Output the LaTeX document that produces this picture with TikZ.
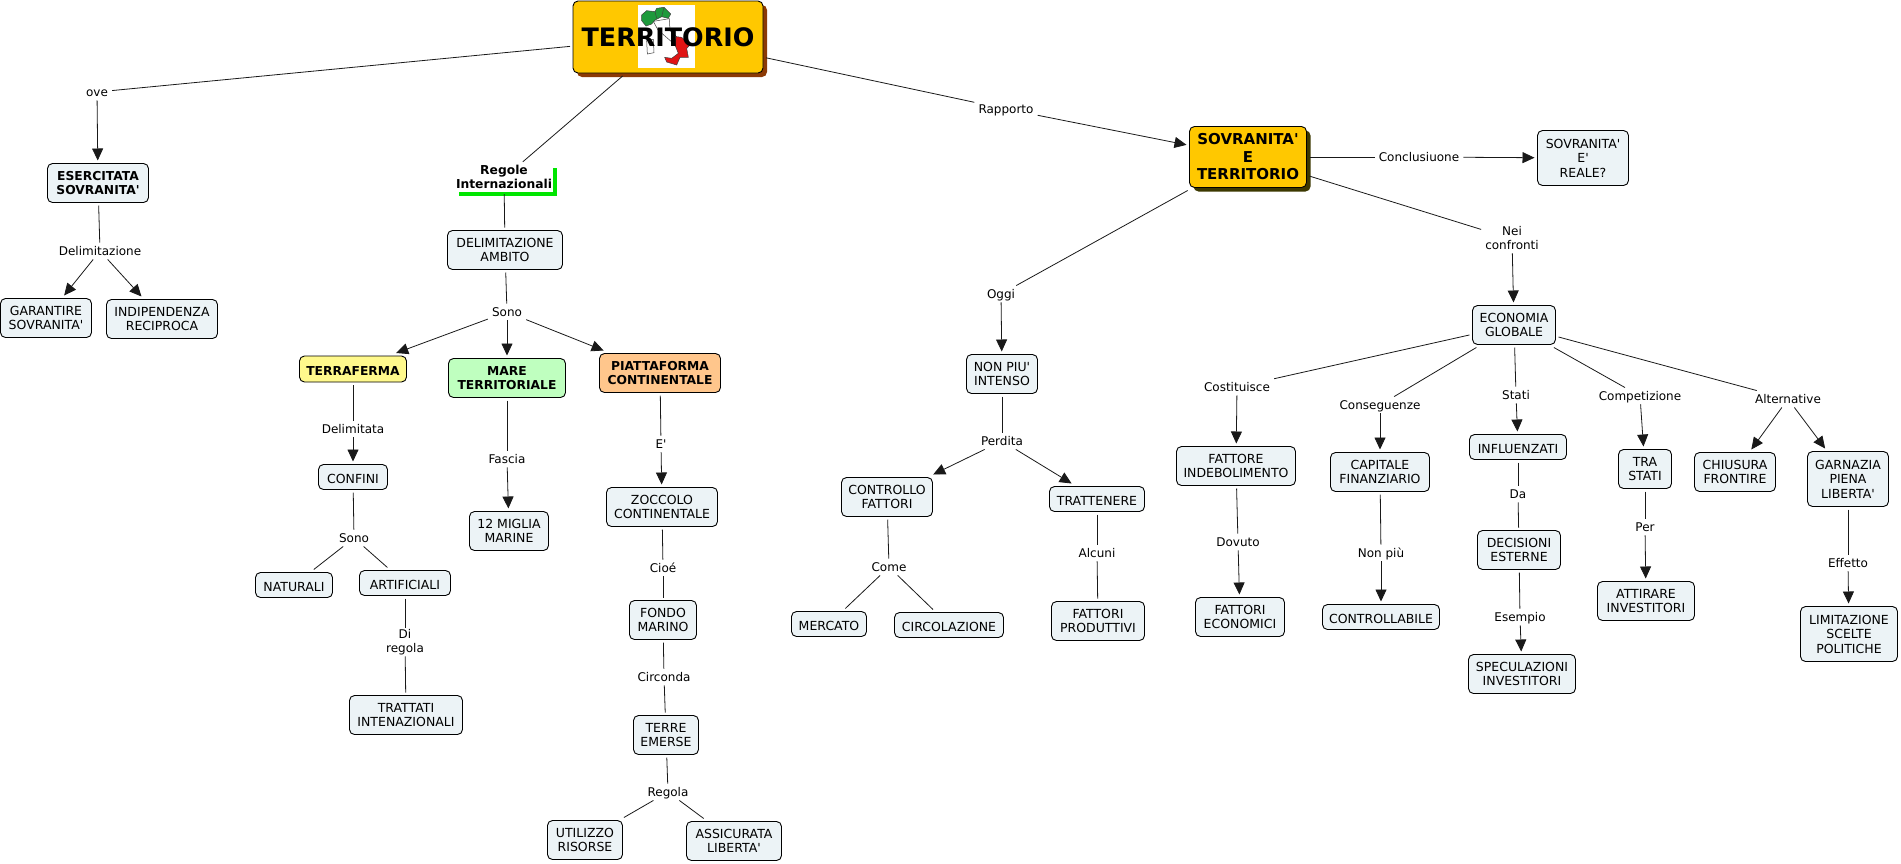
\documentclass[tikz,border=0pt]{standalone}
\usepackage{fontspec}
\setmainfont{DejaVu Sans}[Ligatures=TeXOff]
\usetikzlibrary{arrows.meta}
\usetikzlibrary{scopes}
\usetikzlibrary{shadows}
\definecolor{gold}{HTML}{FFC800}
\definecolor{pale}{HTML}{ECF3F6}
\definecolor{rust}{HTML}{8C3A05}
\definecolor{darkolive}{HTML}{3C3800}
\definecolor{mapgreen}{HTML}{1E9A3C}
\definecolor{mapred}{HTML}{E01414}
\begin{document}
\begin{tikzpicture}[
    x=1pt,y=-1pt,
    >={Triangle[length=12pt,width=11pt]},
    conn/.style={line width=0.8pt,black!90},
    concept/.style={rectangle,rounded corners=5pt,draw=black,line width=0.9pt,fill=pale,
        align=center,outer sep=3pt,inner sep=0pt,font=\fontsize{12.5}{14.5}\selectfont,
        execute at begin node={\rule{0pt}{12.8pt}}},
    dims/.style 2 args={minimum width=#1pt,minimum height=#2pt},
    strong/.style={font=\fontsize{12.3}{14.5}\selectfont\bfseries},
    main/.style={fill=gold,font=\fontsize{15}{17.5}\selectfont\bfseries},
    link/.style={rectangle,align=center,inner xsep=4pt,inner ysep=1pt,
        font=\fontsize{12}{14.5}\selectfont,execute at begin node={\rule[-2.5pt]{0pt}{14.5pt}}},
]
    \useasboundingbox (0,0) rectangle (1901,863);
    % Root with the map of Italy
    \node[concept,main,dims={190}{72},drop shadow={shadow xshift=4pt,shadow yshift=-4pt,fill=rust,opacity=1}] (territorio) at (668,37) {};
    \fill[white] (638,5) rectangle (695,68);
    {[shift={(540,0)},xscale=1/3,yscale=1/3,draw=black!75,line width=0.5pt]
        \draw[fill=white] (340,64) -- (388,56) -- (390,92) -- (412,112) -- (406,135) -- (384,116) -- (354,90) -- cycle;
        \draw[fill=white] (320,122) -- (340,118) -- (342,158) -- (322,162) -- cycle;
        \draw[fill=mapgreen] (305,45) -- (320,32) -- (345,35) -- (350,25) -- (372,22) -- (392,42) -- (385,55) -- (365,50) -- (345,60) -- (335,72) -- (318,78) -- (305,62) -- cycle;
        \draw (345,35) -- (350,55) (372,22) -- (365,50);
        \draw[fill=mapred] (408,110) -- (425,112) -- (450,135) -- (440,145) -- (445,172) -- (420,172) -- (410,195) -- (380,186) -- (374,172) -- (395,175) -- (415,160) -- (405,135) -- cycle;
    }
    \node[font=\fontsize{25.4}{28}\selectfont\bfseries] (territoriotext) at (territorio) {TERRITORIO};

    % Left branch
    \node[link] (ove) at (97,92) {ove};
    \node[concept,strong,dims={101}{39}] (esercitata) at (98,183) {ESERCITATA\\SOVRANITA'};
    \node[link] (delimitazione) at (100,251) {Delimitazione};
    \node[concept,dims={91}{39}] (garantire) at (46,318) {GARANTIRE\\SOVRANITA'};
    \node[concept,dims={111}{39}] (indipendenza) at (162,319) {INDIPENDENZA\\RECIPROCA};

    % Rules branch
    \node[link,strong,inner xsep=0pt,fill=white,outer sep=2pt,minimum width=98pt,minimum height=25pt,drop shadow={shadow xshift=4pt,shadow yshift=-4pt,fill=green!90!black,opacity=1}] (regole) at (504,178) {Regole\\Internazionali};
    \node[concept,dims={115}{39}] (ambito) at (505,250) {DELIMITAZIONE\\AMBITO};
    \node[link] (sonoa) at (507,312) {Sono};
    \node[concept,strong,fill=yellow!45,dims={107}{26}] (terraferma) at (353,369) {TERRAFERMA};
    \node[concept,strong,fill=green!25,dims={117}{39}] (mare) at (507,378) {MARE\\TERRITORIALE};
    \node[concept,strong,fill=orange!45,dims={121}{39}] (piattaforma) at (660,373) {PIATTAFORMA\\CONTINENTALE};
    \node[link] (delimitata) at (353,429) {Delimitata};
    \node[concept,dims={69}{25}] (confini) at (353,477) {CONFINI};
    \node[link] (sonob) at (354,538) {Sono};
    \node[concept,dims={77}{25}] (naturali) at (294,585) {NATURALI};
    \node[concept,dims={91}{25}] (artificiali) at (405,583) {ARTIFICIALI};
    \node[link] (diregola) at (405,642) {Di\\regola};
    \node[concept,dims={113}{39}] (trattati) at (406,715) {TRATTATI\\INTENAZIONALI};
    \node[link] (fascia) at (507,459) {Fascia};
    \node[concept,dims={79}{39}] (miglia) at (509,531) {12 MIGLIA\\MARINE};
    \node[link] (ee) at (661,444) {E'};
    \node[concept,dims={111}{39}] (zoccolo) at (662,507) {ZOCCOLO\\CONTINENTALE};
    \node[link] (cioe) at (663,568) {Cioé};
    \node[concept,dims={67}{39}] (fondo) at (663,620) {FONDO\\MARINO};
    \node[link] (circonda) at (664,677) {Circonda};
    \node[concept,dims={65}{39}] (terre) at (666,735) {TERRE\\EMERSE};
    \node[link] (regola) at (668,792) {Regola};
    \node[concept,dims={75}{39}] (utilizzo) at (585,840) {UTILIZZO\\RISORSE};
    \node[concept,dims={95}{39}] (assicurata) at (734,841) {ASSICURATA\\LIBERTA'};

    % Sovereignty branch
    \node[link] (rapporto) at (1006,109) {Rapporto};
    \node[concept,main,dims={117}{61},drop shadow={shadow xshift=4pt,shadow yshift=-4pt,fill=darkolive,opacity=1}] (sovranita) at (1248,157) {SOVRANITA'\\E\\TERRITORIO};
    \node[link] (conclusione) at (1419,157) {Conclusiuone};
    \node[concept,dims={91}{55}] (reale) at (1583,158) {SOVRANITA'\\E'\\REALE?};
    \node[link] (oggi) at (1001,294) {Oggi};
    \node[concept,dims={71}{39}] (nonpiu) at (1002,374) {NON PIU'\\INTENSO};
    \node[link] (perdita) at (1002,441) {Perdita};
    \node[concept,dims={91}{39}] (controllo) at (887,497) {CONTROLLO\\FATTORI};
    \node[concept,dims={95}{25}] (trattenere) at (1097,499) {TRATTENERE};
    \node[link] (come) at (889,567) {Come};
    \node[concept,dims={75}{25}] (mercato) at (829,624) {MERCATO};
    \node[concept,dims={109}{25}] (circolazione) at (949,625) {CIRCOLAZIONE};
    \node[link] (alcuni) at (1097,553) {Alcuni};
    \node[concept,dims={93}{39}] (produttivi) at (1098,621) {FATTORI\\PRODUTTIVI};

    % Global economy branch
    \node[link] (confronti) at (1512,239) {Nei\\confronti};
    \node[concept,dims={83}{39}] (economia) at (1514,325) {ECONOMIA\\GLOBALE};
    \node[link] (costituisce) at (1237,387) {Costituisce};
    \node[concept,dims={119}{39}] (fattore) at (1236,466) {FATTORE\\INDEBOLIMENTO};
    \node[link] (dovuto) at (1238,542) {Dovuto};
    \node[concept,dims={89}{39}] (economici) at (1240,617) {FATTORI\\ECONOMICI};
    \node[link] (conseguenze) at (1380,405) {Conseguenze};
    \node[concept,dims={99}{39}] (capitale) at (1380,472) {CAPITALE\\FINANZIARIO};
    \node[link] (nonpiulink) at (1381,553) {Non più};
    \node[concept,dims={117}{25}] (controllabile) at (1381,617) {CONTROLLABILE};
    \node[link] (stati) at (1516,395) {Stati};
    \node[concept,dims={97}{25}] (influenzati) at (1518,447) {INFLUENZATI};
    \node[link] (da) at (1518,494) {Da};
    \node[concept,dims={83}{39}] (decisioni) at (1519,550) {DECISIONI\\ESTERNE};
    \node[link] (esempio) at (1520,617) {Esempio};
    \node[concept,dims={107}{39}] (speculazioni) at (1522,674) {SPECULAZIONI\\INVESTITORI};
    \node[link] (competizione) at (1640,396) {Competizione};
    \node[concept,dims={53}{39}] (trastati) at (1645,469) {TRA\\STATI};
    \node[link] (per) at (1645,527) {Per};
    \node[concept,dims={97}{39}] (attirare) at (1646,601) {ATTIRARE\\INVESTITORI};
    \node[link] (alternative) at (1788,399) {Alternative};
    \node[concept,dims={81}{39}] (chiusura) at (1735,472) {CHIUSURA\\FRONTIRE};
    \node[concept,dims={81}{55}] (garnazia) at (1848,479) {GARNAZIA\\PIENA\\LIBERTA'};
    \node[link] (effetto) at (1848,563) {Effetto};
    \node[concept,dims={97}{55}] (limitazione) at (1849,634) {LIMITAZIONE\\SCELTE\\POLITICHE};

    % Plain connectors
    {[conn]
        \draw (territorio) -- (ove);
        \draw (territorio) -- (regole);
        \draw (territorio) -- (rapporto);
        \draw (esercitata) -- (delimitazione);
        \draw (regole) -- (ambito);
        \draw (ambito) -- (sonoa);
        \draw (terraferma) -- (delimitata);
        \draw (confini) -- (sonob);
        \draw (sonob) -- (naturali);
        \draw (sonob) -- (artificiali);
        \draw (artificiali) -- (diregola);
        \draw (diregola) -- (trattati);
        \draw (mare) -- (fascia);
        \draw (piattaforma) -- (ee);
        \draw (zoccolo) -- (cioe);
        \draw (cioe) -- (fondo);
        \draw (fondo) -- (circonda);
        \draw (circonda) -- (terre);
        \draw (terre) -- (regola);
        \draw (regola) -- (utilizzo);
        \draw (regola) -- (assicurata);
        \draw (sovranita) -- (conclusione);
        \draw (sovranita) -- (oggi);
        \draw (sovranita) -- (confronti);
        \draw (nonpiu) -- (perdita);
        \draw (controllo) -- (come);
        \draw (come) -- (mercato);
        \draw (come) -- (circolazione);
        \draw (trattenere) -- (alcuni);
        \draw (alcuni) -- (produttivi);
        \draw (economia) -- (costituisce);
        \draw (economia) -- (conseguenze);
        \draw (economia) -- (stati);
        \draw (economia) -- (competizione);
        \draw (economia) -- (alternative);
        \draw (fattore) -- (dovuto);
        \draw (capitale) -- (nonpiulink);
        \draw (influenzati) -- (da);
        \draw (da) -- (decisioni);
        \draw (decisioni) -- (esempio);
        \draw (trastati) -- (per);
        \draw (garnazia) -- (effetto);
    }
    % Arrows
    {[conn,->]
        \draw (ove) -- (esercitata);
        \draw (delimitazione) -- (garantire);
        \draw (delimitazione) -- (indipendenza);
        \draw (sonoa) -- (terraferma);
        \draw (sonoa) -- (mare);
        \draw (sonoa) -- (piattaforma);
        \draw (delimitata) -- (confini);
        \draw (fascia) -- (miglia);
        \draw (ee) -- (zoccolo);
        \draw (rapporto) -- (sovranita);
        \draw (conclusione) -- (reale);
        \draw (oggi) -- (nonpiu);
        \draw (perdita) -- (controllo);
        \draw (perdita) -- (trattenere);
        \draw (confronti) -- (economia);
        \draw (costituisce) -- (fattore);
        \draw (dovuto) -- (economici);
        \draw (conseguenze) -- (capitale);
        \draw (nonpiulink) -- (controllabile);
        \draw (stati) -- (influenzati);
        \draw (esempio) -- (speculazioni);
        \draw (competizione) -- (trastati);
        \draw (per) -- (attirare);
        \draw (alternative) -- (chiusura);
        \draw (alternative) -- (garnazia);
        \draw (effetto) -- (limitazione);
    }
\end{tikzpicture}
\end{document}
